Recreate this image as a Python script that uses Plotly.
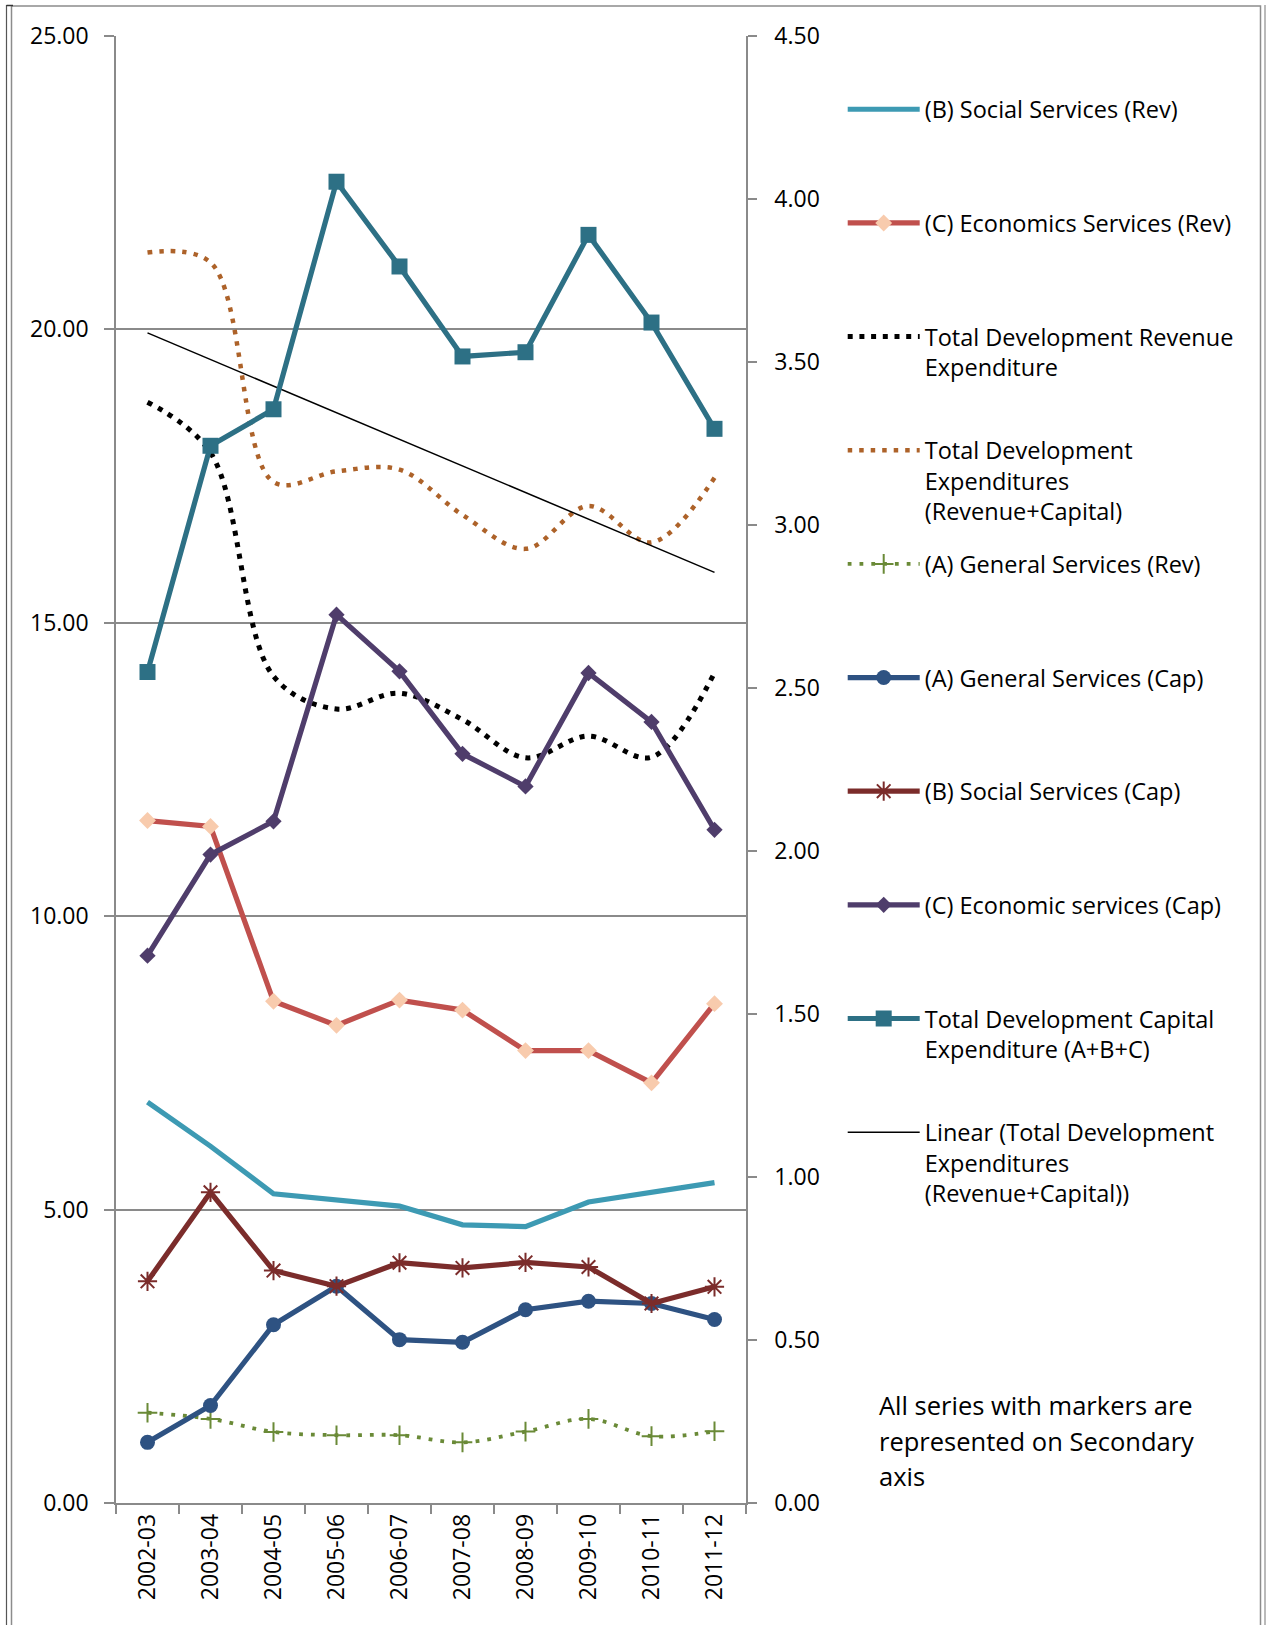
import plotly.graph_objects as go

# ---------------- data ----------------
years = ["2002-03", "2003-04", "2004-05", "2005-06", "2006-07",
         "2007-08", "2008-09", "2009-10", "2010-11", "2011-12"]

# primary axis (no markers)
social_rev = [6.83, 6.08, 5.27, 5.16, 5.06, 4.74, 4.71, 5.13, 5.30, 5.46]
econ_rev = [11.63, 11.53, 8.55, 8.14, 8.57, 8.40, 7.71, 7.71, 7.16, 8.51]
total_rev = [18.76, 17.90, 14.09, 13.53, 13.80, 13.35, 12.70, 13.07, 12.71, 14.15]
total_exp = [21.31, 21.14, 17.40, 17.58, 17.61, 16.84, 16.26, 16.99, 16.37, 17.47]
trend_years = [years[0], years[-1]]
trend_vals = [19.94, 15.86]

# secondary axis (series with markers)
general_rev = [0.277, 0.258, 0.218, 0.208, 0.208, 0.186, 0.219, 0.258, 0.205, 0.220]
general_cap = [0.186, 0.299, 0.547, 0.665, 0.501, 0.493, 0.593, 0.619, 0.612, 0.563]
social_cap = [0.680, 0.953, 0.713, 0.665, 0.737, 0.721, 0.738, 0.724, 0.612, 0.663]
econ_cap = [1.679, 1.989, 2.091, 2.725, 2.551, 2.298, 2.198, 2.546, 2.396, 2.065]
total_cap = [2.549, 3.243, 3.355, 4.053, 3.793, 3.517, 3.530, 3.890, 3.621, 3.295]

left_ticks = [0, 5, 10, 15, 20, 25]
right_ticks = [0, 0.5, 1.0, 1.5, 2.0, 2.5, 3.0, 3.5, 4.0, 4.5]

legend_names = [
    "(B) Social Services (Rev)",
    "(C) Economics Services (Rev)",
    "Total Development Revenue<br>Expenditure",
    "Total Development<br>Expenditures<br>(Revenue+Capital)",
    "(A) General Services (Rev)",
    "(A) General Services (Cap)",
    "(B) Social Services (Cap)",
    "(C) Economic services (Cap)",
    "Total Development Capital<br>Expenditure (A+B+C)",
    "Linear (Total Development<br>Expenditures<br>(Revenue+Capital))",
]
note_lines = ["All series with markers are", "represented on Secondary", "axis"]

FONT = "Open Sans"
GRID = "#8a8a8a"
TICK_SIZE = 23


def pad(name, n=3):
    while name.count("<br>") < n - 1:
        name += "<br>\u00a0"
    return name


names = [pad(n) for n in legend_names]

fig = go.Figure()


def add(y, idx, xvals=None, yaxis="y", **kw):
    fig.add_trace(go.Scatter(
        x=xvals if xvals is not None else years, y=y, name=names[idx],
        legendgroup="g%d" % idx, legendrank=idx + 1, yaxis=yaxis,
        hoverinfo="x+y", **kw))


LW = 5.2

# primary-axis series
add(social_rev, 0, mode="lines", line=dict(color="#3d9ab3", width=LW))
add(econ_rev, 1, mode="lines+markers", line=dict(color="#c0504d", width=LW),
    marker=dict(symbol="diamond", size=13, color="#f8cbad"))
add(total_rev, 2, mode="lines",
    line=dict(color="#000000", width=5, dash="5px,6.7px", shape="spline", smoothing=1))
add(total_exp, 3, mode="lines",
    line=dict(color="#ad6229", width=4.5, dash="4.5px,7px", shape="spline", smoothing=1))
add(trend_vals, 9, xvals=trend_years, mode="lines", line=dict(color="#000000", width=1.5))

# secondary-axis series
add(general_rev, 4, yaxis="y2", mode="lines+markers",
    line=dict(color="#6a8a37", width=3.8, dash="3.8px,8px", shape="spline", smoothing=1),
    marker=dict(symbol="cross-thin-open", size=14, color="#6a8a37",
                line=dict(color="#6a8a37", width=2)))
add(general_cap, 5, yaxis="y2", mode="lines+markers",
    line=dict(color="#2e5282", width=LW),
    marker=dict(symbol="circle", size=15, color="#2e5282"))
add(social_cap, 6, yaxis="y2", mode="lines+markers",
    line=dict(color="#7b2c2b", width=LW),
    marker=dict(symbol="asterisk-open", size=16, color="#7b2c2b",
                line=dict(color="#7b2c2b", width=2)))
add(econ_cap, 7, yaxis="y2", mode="lines+markers",
    line=dict(color="#4f3d6b", width=LW),
    marker=dict(symbol="diamond", size=12.5, color="#4f3d6b"))
add(total_cap, 8, yaxis="y2", mode="lines+markers",
    line=dict(color="#2d7085", width=LW),
    marker=dict(symbol="square", size=16, color="#2d7085"))

W, H = 1266, 1625
ML, MR, MT, MB = 116, 520, 36, 122
PW, PH = W - ML - MR, H - MT - MB


def px_x(p):
    return (p - ML) / PW


def px_y(p):
    return 1 - (p - MT) / PH


note_y = [1405, 1440.7, 1476]
annotations = [dict(
    xref="paper", yref="paper", x=px_x(877), y=px_y(yy),
    xanchor="left", yanchor="middle", align="left", showarrow=False,
    text=t, font=dict(family=FONT, size=25.5, color="#000000"),
) for t, yy in zip(note_lines, note_y)]

fig.update_layout(
    width=W, height=H,
    margin=dict(l=ML, r=MR, t=MT, b=MB, pad=0),
    paper_bgcolor="white", plot_bgcolor="white",
    font=dict(family=FONT, size=TICK_SIZE, color="#000000"),
    showlegend=True,
    legend=dict(
        xref="container", yref="container",
        x=842.7 / W, y=1 - 87.5 / H, xanchor="left", yanchor="top",
        font=dict(family=FONT, size=23.5, color="#000000"),
        itemwidth=72, valign="top", traceorder="grouped",
        tracegroupgap=19, bgcolor="rgba(0,0,0,0)", borderwidth=0,
        maxheight=1500,
        itemclick=False, itemdoubleclick=False,
    ),
    xaxis=dict(
        type="category", categoryorder="array", categoryarray=years,
        range=[-0.5, len(years) - 0.5],
        showgrid=False, zeroline=False,
        showline=True, linecolor=GRID, linewidth=1.5,
        ticks="outside", tickson="boundaries", ticklen=9,
        tickcolor=GRID, tickwidth=1.5, tickangle=-90,
        tickfont=dict(family=FONT, size=TICK_SIZE, color="#000000"),
    ),
    yaxis=dict(
        range=[0, 25], tickvals=left_ticks, tickformat=".2f",
        showgrid=True, gridcolor=GRID, gridwidth=1.5, zeroline=False,
        showline=True, linecolor=GRID, linewidth=1.5,
        ticks="outside", ticklen=10, tickcolor=GRID, tickwidth=1.5,
        ticklabelstandoff=11,
        tickfont=dict(family=FONT, size=TICK_SIZE, color="#000000"),
    ),
    yaxis2=dict(
        overlaying="y", side="right", anchor="x",
        range=[0, 4.5], tickvals=right_ticks, tickformat=".2f",
        showgrid=False, zeroline=False,
        showline=True, linecolor=GRID, linewidth=1.5,
        ticks="outside", ticklen=9, tickcolor=GRID, tickwidth=1.5,
        ticklabelstandoff=13,
        tickfont=dict(family=FONT, size=TICK_SIZE, color="#000000"),
    ),
    annotations=annotations,
    shapes=[
        dict(type="rect", xref="paper", yref="paper",
             x0=px_x(11.5), x1=px_x(1260.5), y0=px_y(1660), y1=px_y(6),
             line=dict(color="#8c8c8c", width=1.5), fillcolor="rgba(0,0,0,0)", layer="below"),
        dict(type="line", xref="paper", yref="paper",
             x0=px_x(6.5), x1=px_x(6.5), y0=px_y(1660), y1=px_y(5),
             line=dict(color="#555555", width=1.2)),
        dict(type="line", xref="paper", yref="paper",
             x0=px_x(6.5), x1=px_x(13), y0=px_y(5.5), y1=px_y(5.5),
             line=dict(color="#333333", width=1.5)),
        dict(type="line", xref="paper", yref="paper",
             x0=px_x(1265), x1=px_x(1265), y0=px_y(1660), y1=px_y(5),
             line=dict(color="#8c8c8c", width=1.2)),
    ],
)

fig.write_html("out.html")
